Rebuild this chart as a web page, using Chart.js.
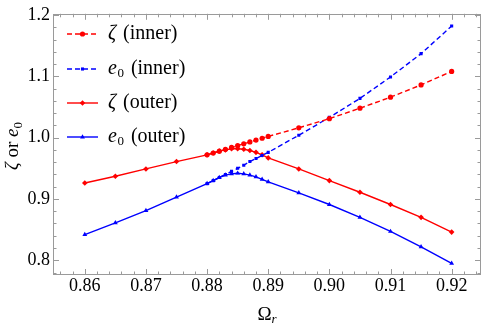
<!DOCTYPE html>
<html>
<head>
<meta charset="utf-8">
<script src="https://cdn.jsdelivr.net/npm/chart.js@4.4.1/dist/chart.umd.min.js"></script>
<style>
html,body{margin:0;padding:0;background:#fff;}
#wrap{width:485px;height:325px;}
</style>
</head>
<body>
<div id="wrap"><canvas id="c" width="485" height="325"></canvas></div>
<script>
// ---- data ----
const xInner = [0.880,0.881,0.882,0.883,0.884,0.885,0.886,0.887,0.888,0.889,0.890,0.895,0.900,0.905,0.910,0.915,0.920];
const zetaInner = [0.972,0.975,0.978,0.981,0.984,0.987,0.990,0.993,0.996,0.999,1.002,1.016,1.031,1.048,1.066,1.086,1.108];
const e0Inner   = [0.925,0.930,0.935,0.940,0.945,0.950,0.955,0.961,0.966,0.971,0.976,1.004,1.033,1.064,1.099,1.137,1.182];

const xOuter = [0.860,0.865,0.870,0.875,0.880,0.881,0.882,0.883,0.884,0.885,0.886,0.887,0.888,0.889,0.890,0.895,0.900,0.905,0.910,0.915,0.920];
const zetaOuter = [0.926,0.937,0.949,0.961,0.972,0.975,0.978,0.980,0.982,0.982,0.981,0.979,0.976,0.972,0.967,0.949,0.930,0.911,0.891,0.870,0.846];
const e0Outer   = [0.842,0.861,0.881,0.903,0.925,0.930,0.935,0.939,0.941,0.942,0.941,0.939,0.936,0.932,0.928,0.910,0.891,0.870,0.847,0.822,0.795];

const xTickVals = [0.86,0.87,0.88,0.89,0.90,0.91,0.92];
const yTickVals = [0.8,0.9,1.0,1.1,1.2];
const xMinorStep = 0.002;
const yMinorStep = 0.02;

const RED = '#ff0000', BLUE = '#0000ff';
const FONT = '"Liberation Serif", "DejaVu Serif", serif';

function pts(xs, ys){ return xs.map((x,i)=>({x:x, y:ys[i]})); }

const datasets = [
  {label:'ζ (inner)', data:pts(xInner,zetaInner), borderColor:RED, backgroundColor:RED, borderDash:[5,3], pointStyle:'circle', pointRadius:2.6},
  {label:'e0 (inner)', data:pts(xInner,e0Inner), borderColor:BLUE, backgroundColor:BLUE, borderDash:[5,3], pointStyle:'rect', pointRadius:2.2},
  {label:'ζ (outer)', data:pts(xOuter,zetaOuter), borderColor:RED, backgroundColor:RED, borderDash:[], pointStyle:'rectRot', pointRadius:2.8},
  {label:'e0 (outer)', data:pts(xOuter,e0Outer), borderColor:BLUE, backgroundColor:BLUE, borderDash:[], pointStyle:'triangle', pointRadius:2.8}
];
datasets.forEach(d=>{ d.borderWidth=1.4; d.pointBorderWidth=0; d.tension=0; d.showLine=true; });

const legendName = [
  {sym:'ζ', sub:null, rest:' (inner)'},
  {sym:'e', sub:'0', rest:' (inner)'},
  {sym:'ζ', sub:null, rest:' (outer)'},
  {sym:'e', sub:'0', rest:' (outer)'}
];

const decor = {
  id:'decor',
  afterDraw(chart){
    const ctx = chart.ctx, a = chart.chartArea;
    const xs = chart.scales.x, ys = chart.scales.y;
    ctx.save();
    // frame
    ctx.strokeStyle = '#9a9a9a';
    ctx.lineWidth = 1;
    ctx.strokeRect(Math.round(a.left)+0.5, Math.round(a.top)+0.5, Math.round(a.right-a.left)-1, Math.round(a.bottom-a.top)-1);
    // ticks
    ctx.beginPath();
    const isMajor = (v, arr)=>arr.some(t=>Math.abs(t-v)<1e-6);
    for (let v = Math.ceil(xs.min/xMinorStep)*xMinorStep; v <= xs.max+1e-9; v += xMinorStep){
      const px = Math.round(xs.getPixelForValue(v))+0.5;
      const len = isMajor(v, xTickVals) ? 6 : 3.5;
      ctx.moveTo(px, a.bottom); ctx.lineTo(px, a.bottom-len);
      ctx.moveTo(px, a.top); ctx.lineTo(px, a.top+len);
    }
    for (let v = Math.ceil(ys.min/yMinorStep)*yMinorStep; v <= ys.max+1e-9; v += yMinorStep){
      const py = Math.round(ys.getPixelForValue(v))+0.5;
      const len = isMajor(v, yTickVals) ? 6 : 3.5;
      ctx.moveTo(a.left, py); ctx.lineTo(a.left+len, py);
      ctx.moveTo(a.right, py); ctx.lineTo(a.right-len, py);
    }
    ctx.stroke();

    // legend
    const ly = [34, 69, 103, 137];
    datasets.forEach((d,i)=>{
      const y = ly[i];
      ctx.save();
      ctx.strokeStyle = d.borderColor; ctx.lineWidth = 1.4;
      ctx.setLineDash(d.borderDash);
      ctx.beginPath(); ctx.moveTo(67,y); ctx.lineTo(98,y); ctx.stroke();
      ctx.setLineDash([]);
      ctx.fillStyle = d.backgroundColor;
      Chart.helpers.drawPoint(ctx, {pointStyle:d.pointStyle, radius:d.pointRadius, borderWidth:0, rotation:0}, 82.5, y);
      ctx.restore();
      const n = legendName[i];
      ctx.fillStyle = '#000';
      ctx.textBaseline = 'middle';
      ctx.textAlign = 'left';
      let x = 108;
      ctx.font = 'italic 20px ' + FONT;
      ctx.fillText(n.sym, x, y); x += ctx.measureText(n.sym).width;
      if (n.sub){ ctx.font = '13px ' + FONT; ctx.fillText(n.sub, x+0.5, y+5); x += ctx.measureText(n.sub).width+0.5; }
      ctx.font = '20px ' + FONT;
      ctx.fillText(n.rest, x+2, y);
    });

    // x title: Ω_r
    ctx.fillStyle = '#000';
    ctx.textBaseline = 'alphabetic';
    ctx.font = '19px ' + FONT;
    const wO = ctx.measureText('Ω').width;
    ctx.font = 'italic 13px ' + FONT;
    const wr = ctx.measureText('r').width;
    let tx = 267 - (wO+wr)/2;
    ctx.font = '19px ' + FONT;
    ctx.fillText('Ω', tx, 320);
    ctx.font = 'italic 13px ' + FONT;
    ctx.fillText('r', tx+wO, 323);

    // y title: ζ or e0 (rotated)
    ctx.save();
    ctx.translate(18, 146);
    ctx.rotate(-Math.PI/2);
    const parts = [['italic 19px ', 'ζ', 0], ['19px ', ' or ', 0], ['italic 19px ', 'e', 0], ['13px ', '0', 4]];
    let tot = 0;
    parts.forEach(p=>{ ctx.font = p[0]+FONT; tot += ctx.measureText(p[1]).width; });
    let cx = -tot/2;
    parts.forEach(p=>{ ctx.font = p[0]+FONT; ctx.fillText(p[1], cx, p[2]); cx += ctx.measureText(p[1]).width; });
    ctx.restore();

    ctx.restore();
  }
};

new Chart(document.getElementById('c'), {
  type:'scatter',
  data:{datasets:datasets},
  options:{
    responsive:false,
    animation:false,
    devicePixelRatio:1,
    layout:{padding:{top:9, right:2, left:0, bottom:0}},
    plugins:{legend:{display:false}, tooltip:{enabled:false}},
    scales:{
      x:{
        type:'linear', min:0.8548, max:0.9248,
        afterBuildTicks(s){ s.ticks = xTickVals.map(v=>({value:v})); },
        afterFit(s){ s.height = 50; },
        grid:{display:false, drawTicks:false, tickLength:0}, border:{display:false},
        ticks:{color:'#000', font:{family:FONT, size:18}, padding:0, maxRotation:0, autoSkip:false,
               callback:(v)=>Number(v).toFixed(2)}
      },
      y:{
        type:'linear', min:0.776, max:1.202,
        afterBuildTicks(s){ s.ticks = yTickVals.map(v=>({value:v})); },
        afterFit(s){ s.width = 53; },
        grid:{display:false, drawTicks:false, tickLength:0}, border:{display:false},
        ticks:{color:'#000', font:{family:FONT, size:18}, padding:3, autoSkip:false,
               callback:(v)=>Number(v).toFixed(1)}
      }
    }
  },
  plugins:[decor]
});
</script>
</body>
</html>
